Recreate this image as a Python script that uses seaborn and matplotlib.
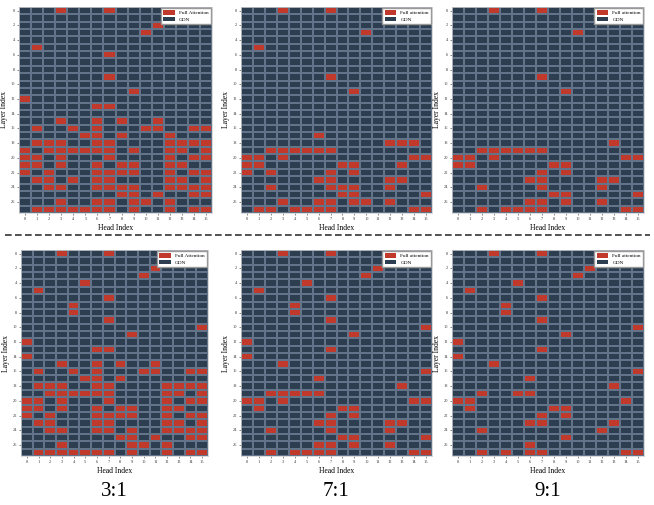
import matplotlib
matplotlib.use('Agg')
import matplotlib.pyplot as plt
import seaborn as sns
import numpy as np
from matplotlib.colors import ListedColormap
from matplotlib.patches import Patch
from matplotlib.lines import Line2D

# 데이터: 각 레이어(0~27)별 Full Attention 헤드 인덱스 (나머지는 GDN)
n_layers = 28
n_heads = 16
ratio_labels = ['3:1', '7:1', '9:1']

top_3to1 = [
    [3, 7, 12], [15], [11], [10], [], [1], [7], [], [], [7],
    [], [9], [0], [6, 7], [], [3, 6, 8, 11], [1, 4, 6, 10, 11, 14, 15], [5, 6, 8, 12],
    [1, 2, 3, 6, 7, 12, 13, 14, 15], [0, 2, 3, 4, 5, 6, 7, 9, 12, 13, 15],
    [0, 1, 3, 7, 12, 14, 15], [0, 1, 3, 6, 8, 9, 12, 13],
    [0, 2, 6, 7, 8, 9, 12, 14, 15], [1, 2, 4, 6, 7, 12, 13, 15],
    [2, 3, 6, 7, 8, 9, 12, 13, 14, 15], [8, 9, 11, 14, 15],
    [3, 6, 7, 9, 10, 12], [1, 2, 3, 4, 5, 6, 7, 9, 12, 14, 15],
]
top_7to1 = [
    [3, 7], [], [], [10], [], [1], [], [], [], [7],
    [], [9], [], [], [], [], [], [6],
    [12, 13, 14], [2, 3, 4, 5, 6, 7], [0, 1, 3, 14, 15], [0, 1, 8, 9, 13],
    [0, 2, 7, 9], [6, 7, 12, 13], [2, 7, 8, 9, 12], [8, 9, 15],
    [3, 6, 7, 9, 10, 12], [1, 2, 4, 5, 6, 7, 14, 15],
]
top_9to1 = [
    [3, 7], [], [], [10], [], [], [], [], [], [7],
    [], [9], [], [], [], [], [], [],
    [13], [2, 3, 4, 5, 6, 7], [0, 1, 3, 14, 15], [0, 1, 8, 9],
    [7, 9], [6, 7, 12, 13], [2, 7, 12], [8, 9, 15],
    [6, 7, 9, 12], [2, 4, 5, 6, 7, 14, 15],
]
bottom_3to1 = [
    [3, 7, 12], [15], [11], [10], [5], [1], [7], [4], [4], [7],
    [15], [9], [0], [6, 7], [0], [3, 6, 8, 11], [1, 4, 6, 10, 11, 14, 15], [5, 6, 8],
    [1, 2, 3, 6, 7, 12, 13, 14, 15], [2, 3, 4, 5, 6, 7, 12, 13, 15],
    [0, 1, 3, 7, 12, 14, 15], [0, 1, 3, 6, 8, 9, 12, 13],
    [0, 2, 6, 7, 8, 9, 12, 14, 15], [1, 2, 6, 7, 12, 13, 15],
    [2, 3, 6, 7, 9, 12, 13, 14, 15], [8, 9, 11, 14, 15],
    [3, 9, 10, 12], [1, 2, 3, 4, 5, 6, 7, 9, 12, 14, 15],
]
bottom_7to1 = [
    [3, 7], [15], [11], [10], [5], [1], [7], [4], [4], [7],
    [15], [9], [0], [7], [0], [3], [15], [6],
    [13], [2, 3, 4, 5, 6], [0, 1, 3, 14, 15], [1, 8, 9],
    [7, 9], [6, 7, 12, 13], [2, 7, 12], [8, 9, 15],
    [6, 7, 9, 12], [2, 4, 5, 6, 7, 14, 15],
]
bottom_9to1 = [
    [3, 7], [15], [11], [10], [5], [1], [7], [4], [4], [7],
    [15], [9], [0], [7], [0], [3], [15], [6],
    [13], [2, 5, 6], [0, 1, 14], [1, 8, 9],
    [7, 9], [6, 7, 13], [2, 12], [9],
    [6], [2, 4, 6, 7, 14, 15],
]

panels = [
    (top_3to1, 'Full Attention'), (top_7to1, 'Full attention'), (top_9to1, 'Full attention'),
    (bottom_3to1, 'Full Attention'), (bottom_7to1, 'Full attention'), (bottom_9to1, 'Full attention'),
]

# 색상
gdn_color = '#2c3e50'
full_color = '#c0392b'
cmap = ListedColormap([gdn_color, full_color])

plt.rcParams['font.family'] = ['Liberation Serif', 'DejaVu Serif']

W, H = 654, 505
fig = plt.figure(figsize=(W / 100, H / 100), dpi=100)

# 축 위치 (픽셀: 왼쪽, 위쪽, 오른쪽, 아래쪽)
boxes = [
    (19, 7, 212, 213), (241, 7, 432, 213), (452, 7, 644, 213),
    (21, 250, 208, 456), (241, 250, 432, 456), (452, 250, 644, 456),
]

for (heads, full_name), (l, t, r, b) in zip(panels, boxes):
    ax = fig.add_axes([l / W, 1 - b / H, (r - l) / W, (b - t) / H])
    mat = np.zeros((n_layers, n_heads), dtype=int)
    for layer, idx in enumerate(heads):
        mat[layer, idx] = 1
    sns.heatmap(mat, ax=ax, cmap=cmap, vmin=0, vmax=1, cbar=False,
                linewidths=0.25, linecolor='#63738a',
                xticklabels=range(n_heads), yticklabels=2)
    ax.tick_params(axis='both', labelsize=3.2, length=1.5, width=0.4, pad=1.5, colors='#333333')
    ax.set_yticklabels(ax.get_yticklabels(), rotation=0)
    ax.set_xticklabels(ax.get_xticklabels(), rotation=0)
    ax.set_xlabel('Head Index', fontsize=5.5, labelpad=2)
    ax.set_ylabel('Layer Index', fontsize=5.5, labelpad=2)
    for s in ax.spines.values():
        s.set_visible(True)
        s.set_color('#cccccc')
        s.set_linewidth(0.5)
    handles = [Patch(facecolor=full_color, label=full_name),
               Patch(facecolor=gdn_color, label='GDN')]
    ax.legend(handles=handles, loc='upper right', fontsize=3.8, frameon=True,
              fancybox=False, framealpha=1, edgecolor='#999999',
              handlelength=2.2, handleheight=0.9, borderpad=0.4,
              labelspacing=0.3, borderaxespad=0.2)

# 구분 점선
fig.add_artist(Line2D([5 / W, 650 / W], [1 - 235 / H, 1 - 235 / H], transform=fig.transFigure,
                      color='#333333', linewidth=1.2, linestyle=(0, (4, 2))))

# 비율 라벨
for (l, t, r, b), lab in zip(boxes[3:], ratio_labels):
    fig.text((l + r) / 2 / W, 1 - 492 / H, lab, ha='center', va='center', fontsize=15)

fig.savefig('out.png', dpi=100)
